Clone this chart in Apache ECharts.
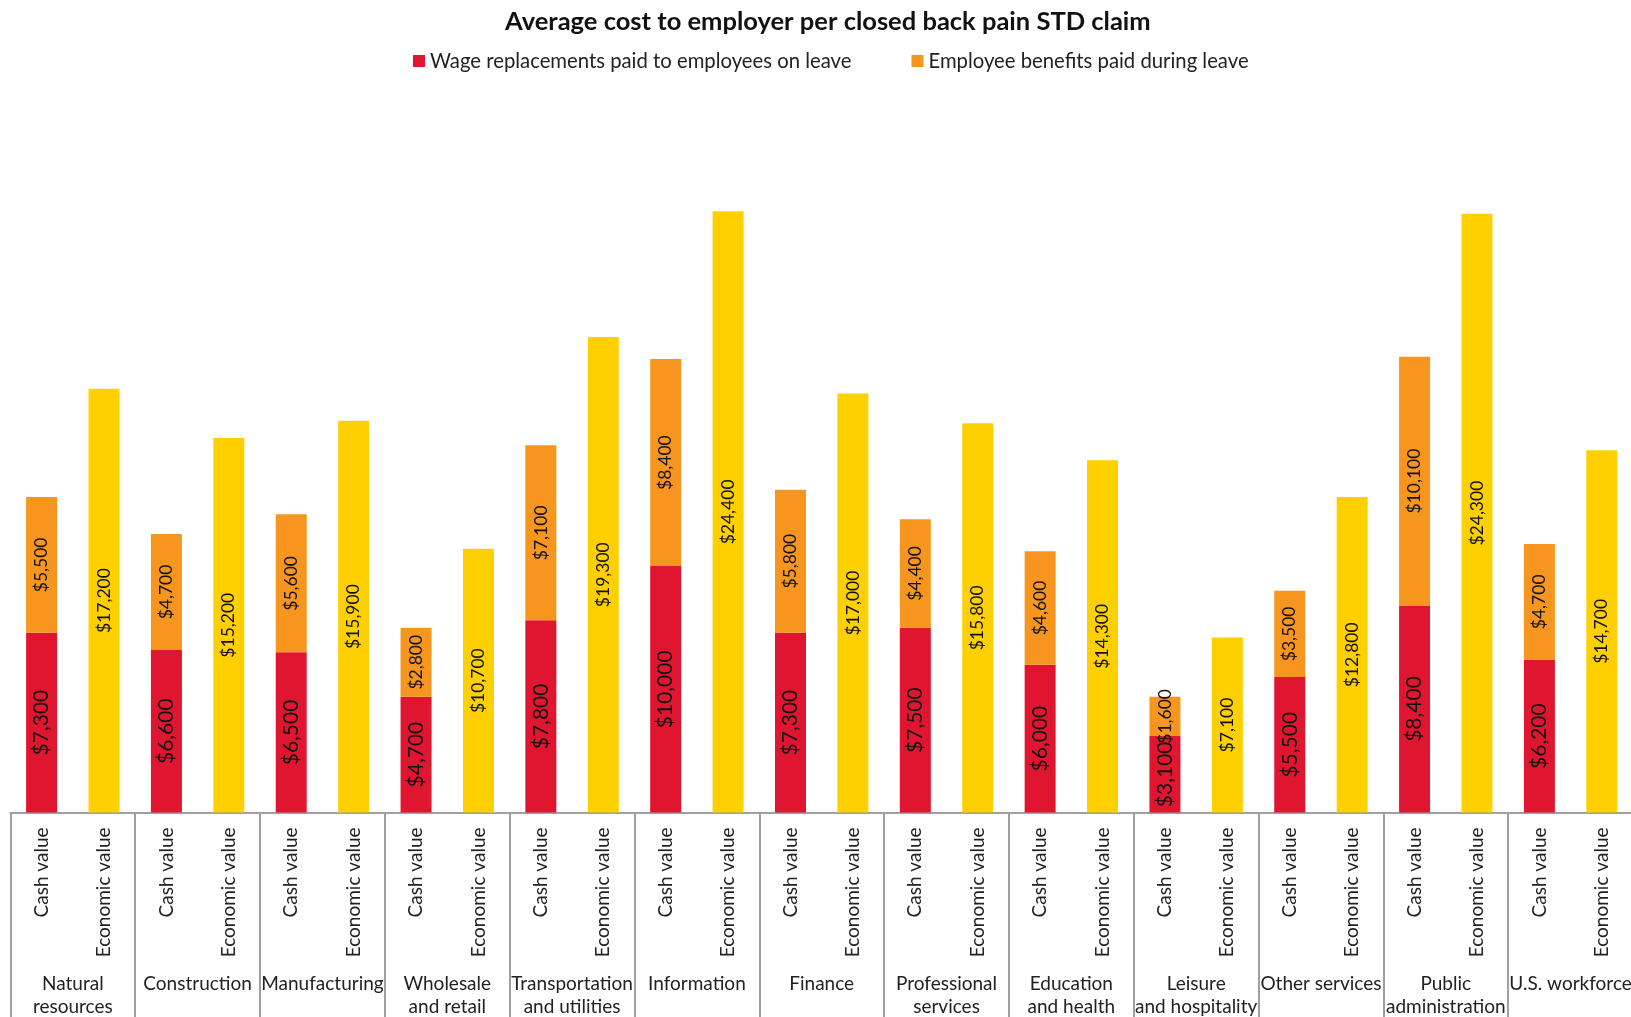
<!DOCTYPE html>
<html lang="en">
<head>
  <meta charset="UTF-8">
  <title>Average cost to employer per closed back pain STD claim</title>
  <script src="https://cdn.jsdelivr.net/npm/echarts@6.0.0/dist/echarts.min.js"></script>
  <style>
    html, body { margin: 0; padding: 0; background: #fff; }
    #main { width: 1631px; height: 1017px; }
  </style>
</head>
<body>
  <div id="main"></div>
  <script>
    // industry groups (second level of the x axis)
    const groups = ['Natural\nresources', 'Construction', 'Manufacturing', 'Wholesale\nand retail',
      'Transportation\nand utilities', 'Information', 'Finance', 'Professional\nservices',
      'Education\nand health', 'Leisure\nand hospitality', 'Other services', 'Public\nadministration',
      'U.S. workforce'];
    // sub categories inside each group
    const subCats = ['Cash value', 'Economic value'];

    const wage = [7300, 6600, 6500, 4700, 7800, 10000, 7300, 7500, 6000, 3100, 5500, 8400, 6200];
    const benefits = [5500, 4700, 5600, 2800, 7100, 8400, 5800, 4400, 4600, 1600, 3500, 10100, 4700];
    const economic = [17200, 15200, 15900, 10700, 19300, 24400, 17000, 15800, 14300, 7100, 12800, 24300, 14700];

    const RED = '#E01631', ORANGE = '#F7961E', YELLOW = '#FFD000';
    const FONT = 'Lato';

    // flatten to 26 columns: cash, economic, cash, economic ...
    let cats = [];
    let wageData = [], benData = [], ecoData = [];
    groups.forEach((g, i) => {
      cats.push(subCats[0], subCats[1]);
      wageData.push(wage[i], '-');
      benData.push(benefits[i], '-');
      ecoData.push('-', economic[i]);
    });

    function money(p) {
      return '$' + Number(p.value).toLocaleString('en-US');
    }

    function labelCfg(size) {
      return {
        show: true,
        position: 'inside',
        rotate: 90,
        color: '#111',
        fontFamily: FONT,
        fontSize: size,
        formatter: money
      };
    }

    let chart = echarts.init(document.getElementById('main'));

    let option = {
      animation: false,
      textStyle: { fontFamily: FONT },
      title: {
        text: 'Average cost to employer per closed back pain STD claim',
        left: 500,
        top: 4,
        textStyle: { fontFamily: FONT, fontSize: 25.5, fontWeight: 'bold', color: '#111' }
      },
      legend: {
        data: ['Wage replacements paid to employees on leave', 'Employee benefits paid during leave'],
        top: 46,
        left: 408,
        icon: 'rect',
        itemWidth: 12,
        itemHeight: 12,
        itemGap: 60,
        textStyle: { fontFamily: FONT, fontSize: 20.3, color: '#222' }
      },
      grid: { left: 10.4, right: -2, top: 73.3, bottom: 204.5, outerBoundsMode: 'none' },
      xAxis: [
        {
          type: 'category',
          data: cats,
          axisLine: { show: false },
          axisTick: { show: false },
          axisLabel: {
            interval: 0,
            rotate: 90,
            margin: 15,
            fontFamily: FONT,
            fontSize: 19,
            color: '#222'
          }
        },
        {
          type: 'category',
          data: groups,
          position: 'bottom',
          axisLine: { show: true, lineStyle: { color: '#a0a0a0', width: 2 } },
          axisTick: { show: true, interval: 0, length: 205, lineStyle: { color: '#a0a0a0', width: 2 } },
          axisLabel: {
            interval: 0,
            margin: 160,
            fontFamily: FONT,
            fontSize: 19,
            lineHeight: 23,
            color: '#222'
          }
        }
      ],
      yAxis: { type: 'value', min: 0, max: 30000, show: false, splitLine: { show: false } },
      series: [
        {
          name: 'Wage replacements paid to employees on leave',
          type: 'bar', stack: 'total', barWidth: 31,
          itemStyle: { color: RED },
          label: labelCfg(21),
          data: wageData
        },
        {
          name: 'Employee benefits paid during leave',
          type: 'bar', stack: 'total', barWidth: 31,
          itemStyle: { color: ORANGE },
          label: labelCfg(17.5),
          data: benData
        },
        {
          name: 'Economic value',
          type: 'bar', stack: 'total', barWidth: 31,
          itemStyle: { color: YELLOW },
          label: labelCfg(17.5),
          data: ecoData
        }
      ]
    };

    chart.setOption(option);
  </script>
</body>
</html>
